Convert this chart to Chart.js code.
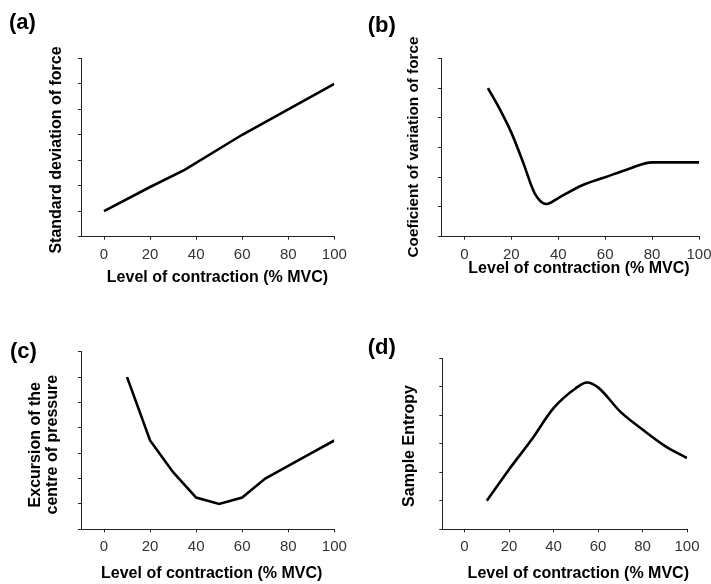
<!DOCTYPE html>
<html>
<head>
<meta charset="utf-8">
<script src="https://cdn.jsdelivr.net/npm/chart.js@4"></script>
<style>
  html, body { margin: 0; padding: 0; background: #fff; }
  #page { position: relative; width: 711px; height: 584px; }
  canvas { position: absolute; }
</style>
</head>
<body>
<div id="page">
  <canvas id="chartA" width="355" height="290" style="left:0;top:0"></canvas>
  <canvas id="chartB" width="356" height="290" style="left:355px;top:0"></canvas>
  <canvas id="chartC" width="355" height="294" style="left:0;top:290px"></canvas>
  <canvas id="chartD" width="356" height="294" style="left:355px;top:290px"></canvas>
</div>
<script>
// data (arbitrary units on y)
const xTickValues = [0, 20, 40, 60, 80, 100];
const xLabel = "Level of contraction (% MVC)";

const sdForceX = [0, 20, 35, 60, 80, 100];
const sdForceY = [1, 1.95, 2.62, 4, 5, 6];

const cvForceX = [10, 15, 20, 25, 30, 35, 40, 50, 60, 70, 80, 90, 100];
const cvForceY = [5, 4.3, 3.5, 2.5, 1.45, 1.1, 1.3, 1.72, 2.0, 2.28, 2.5, 2.5, 2.5];

const copX = [10, 20, 30, 40, 50, 60, 70, 80, 90, 100];
const copY = [6, 3.5, 2.25, 1.25, 1, 1.25, 2, 2.5, 3, 3.5];

const sampEnX = [10, 20, 30, 40, 50, 55, 60, 70, 80, 90, 100];
const sampEnY = [1, 2.1, 3.13, 4.25, 4.95, 5.15, 4.98, 4.13, 3.5, 2.93, 2.5];

// draws the panel letter and both axis titles
const panelText = {
  id: "panelText",
  afterDraw(chart, args, opts) {
    const ctx = chart.ctx;
    ctx.save();
    ctx.fillStyle = "#000";
    ctx.textBaseline = "middle";

    ctx.font = "bold 22px 'Liberation Sans', Arial, sans-serif";
    ctx.textAlign = "left";
    ctx.fillText(opts.letter, opts.letterPos[0], opts.letterPos[1]);

    ctx.font = "bold 16px 'Liberation Sans', Arial, sans-serif";
    ctx.textAlign = "center";
    ctx.fillText(xLabel, opts.xTitlePos[0], opts.xTitlePos[1]);

    const lines = opts.yTitle;
    const lh = 17;
    ctx.font = "bold " + opts.yTitleSize + "px 'Liberation Sans', Arial, sans-serif";
    ctx.translate(opts.yTitlePos[0], opts.yTitlePos[1]);
    ctx.rotate(-Math.PI / 2);
    lines.forEach((t, i) => {
      ctx.fillText(t, 0, (i - (lines.length - 1) / 2) * lh);
    });
    ctx.restore();
  }
};

function makePanel(id, xs, ys, smooth, yMax, area, text) {
  const canvas = document.getElementById(id);
  const yW = 10, xH = 40;
  new Chart(canvas, {
    type: "line",
    data: {
      datasets: [{
        data: xs.map((x, i) => ({ x: x, y: ys[i] })),
        borderColor: "#000",
        borderWidth: 2.6,
        pointRadius: 0,
        tension: 0,
        cubicInterpolationMode: smooth ? "monotone" : "default",
        fill: false
      }]
    },
    options: {
      responsive: false,
      animation: false,
      devicePixelRatio: 1,
      events: [],
      layout: {
        padding: {
          left: area.left - yW,
          top: area.top,
          right: canvas.width - area.right,
          bottom: canvas.height - area.bottom - xH
        }
      },
      plugins: {
        legend: { display: false },
        tooltip: { enabled: false },
        panelText: text
      },
      scales: {
        x: {
          type: "linear",
          min: -10,
          max: 100,
          afterBuildTicks: (s) => { s.ticks = xTickValues.map(v => ({ value: v })); },
          afterFit: (s) => { s.height = xH; s.paddingLeft = 0; s.paddingRight = 0; },
          grid: { drawOnChartArea: false, drawTicks: true, tickLength: 3, color: "#222" },
          border: { display: true, color: "#222", width: 1 },
          ticks: {
            padding: 6,
            color: "#333",
            font: { family: "'Liberation Sans', Arial, sans-serif", size: 15 }
          }
        },
        y: {
          min: 0,
          max: yMax,
          ticks: { stepSize: 1, display: false },
          afterFit: (s) => { s.width = yW; s.paddingTop = 0; s.paddingBottom = 0; },
          grid: { drawOnChartArea: false, drawTicks: true, tickLength: 3, color: "#222" },
          border: { display: true, color: "#222", width: 1 }
        }
      }
    },
    plugins: [panelText]
  });
}

makePanel("chartA", sdForceX, sdForceY, false, 7,
  { left: 81, right: 334.3, top: 58.3, bottom: 236.7 },
  { letter: "(a)", letterPos: [9, 23.3], xTitlePos: [217.5, 278], yTitlePos: [57, 150],
    yTitleSize: 16, yTitle: ["Standard deviation of force"] });

makePanel("chartB", cvForceX, cvForceY, true, 6,
  { left: 86, right: 344, top: 58.3, bottom: 236.7 },
  { letter: "(b)", letterPos: [12.7, 26], xTitlePos: [224, 269], yTitlePos: [58.3, 147],
    yTitleSize: 15.3, yTitle: ["Coeficient of variation of force"] });

makePanel("chartC", copX, copY, false, 7,
  { left: 81, right: 334.3, top: 61.7, bottom: 239.3 },
  { letter: "(c)", letterPos: [10, 61.7], xTitlePos: [211.7, 283.3], yTitlePos: [44, 154.7],
    yTitleSize: 16, yTitle: ["Excursion of the", "centre of pressure"] });

makePanel("chartD", sampEnX, sampEnY, true, 6,
  { left: 87.3, right: 332, top: 68.3, bottom: 239.3 },
  { letter: "(d)", letterPos: [12.7, 58.3], xTitlePos: [223.3, 283.3], yTitlePos: [55, 156],
    yTitleSize: 16, yTitle: ["Sample Entropy"] });
</script>
</body>
</html>
